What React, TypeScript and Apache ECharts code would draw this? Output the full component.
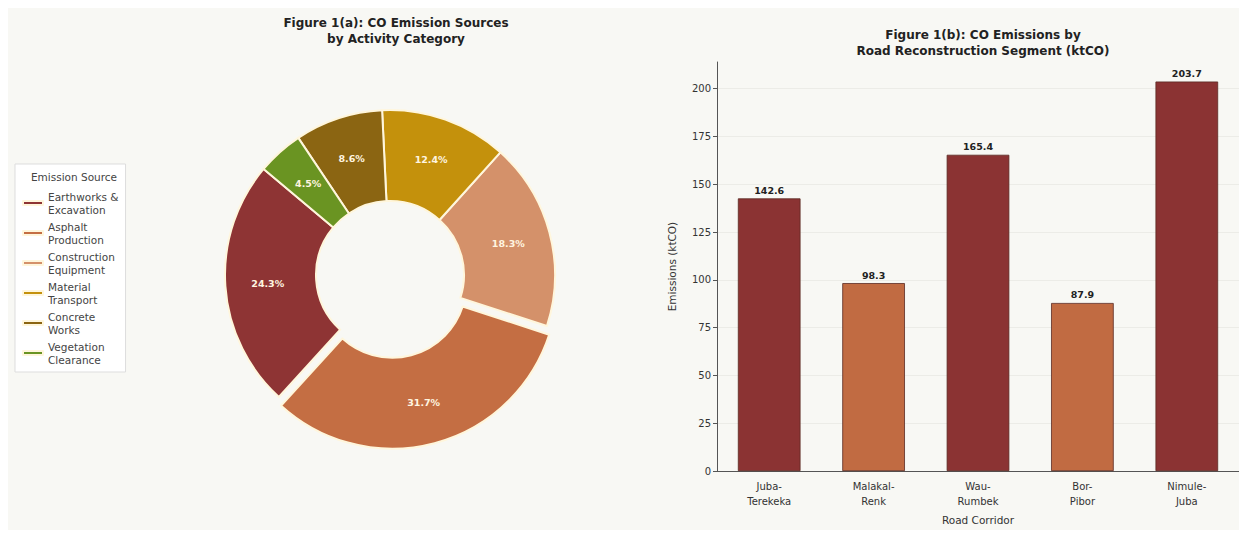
import React, { useEffect, useRef } from "react";
import * as echarts from "echarts";

const sourceNames = [
  "Earthworks & Excavation",
  "Asphalt Production",
  "Construction Equipment",
  "Material Transport",
  "Concrete Works",
  "Vegetation Clearance",
];
const legendLabels = [
  "Earthworks &\nExcavation",
  "Asphalt\nProduction",
  "Construction\nEquipment",
  "Material\nTransport",
  "Concrete\nWorks",
  "Vegetation\nClearance",
];
const sourceShares = [24.3, 31.7, 18.3, 12.4, 8.6, 4.5];
const sourceColors = ["#8E3434", "#C46E43", "#D4916A", "#C4910C", "#8B6512", "#6A9422"];

const corridors = ["Juba-\nTerekeka", "Malakal-\nRenk", "Wau-\nRumbek", "Bor-\nPibor", "Nimule-\nJuba"];
const corridorEmissions = [142.6, 98.3, 165.4, 87.9, 203.7];
const corridorColors = ["#8B3333", "#C16B42", "#8B3333", "#C16B42", "#8B3333"];
const yTicks = [0, 25, 50, 75, 100, 125, 150, 175, 200];

const FONT = "DejaVu Sans";

export default function App() {
  const ref = useRef<HTMLDivElement>(null);
  useEffect(() => {
    if (!ref.current) return;
    const chart = echarts.init(ref.current, null, { renderer: "svg" });
    const option: any = {
      animation: false,
      backgroundColor: "#F8F8F4",
      textStyle: { fontFamily: FONT },
      title: [
        {
          text: "Figure 1(a): CO Emission Sources\nby Activity Category",
          left: 383,
          top: 2,
          textAlign: "center",
          textStyle: { fontFamily: FONT, fontSize: 12, fontWeight: "bold", color: "#222", lineHeight: 16 },
        },
        {
          text: "Figure 1(b): CO Emissions by\nRoad Reconstruction Segment (ktCO)",
          left: 970,
          top: 14,
          textAlign: "center",
          textStyle: { fontFamily: FONT, fontSize: 12, fontWeight: "bold", color: "#222", lineHeight: 16 },
        },
      ],
      legend: {
        orient: "vertical",
        left: 7,
        top: 156,
        padding: [26, 7, 6, 7],
        backgroundColor: "#FFFFFF",
        borderColor: "#DDDDDD",
        borderWidth: 1,
        itemWidth: 20,
        itemHeight: 4,
        itemGap: 4,
        icon: "rect",
        data: sourceNames,
        formatter: (name: string) => legendLabels[sourceNames.indexOf(name)],
        textStyle: { fontFamily: FONT, fontSize: 10.5, color: "#444", lineHeight: 13 },
      },
      graphic: [
        {
          type: "text",
          x: 66,
          y: 163,
          z: 100,
          style: {
            text: "Emission Source",
            fontFamily: FONT,
            fontSize: 10.5,
            fill: "#444",
            textAlign: "center",
            textVerticalAlign: "top",
          },
        },
      ],
      grid: { left: 709, right: 0, top: 54, bottom: 54, containLabel: false },
      xAxis: {
        type: "category",
        data: corridors,
        name: "Road Corridor",
        nameLocation: "middle",
        nameGap: 42,
        nameTextStyle: { fontFamily: FONT, fontSize: 10.5, color: "#333" },
        axisLine: { lineStyle: { color: "#555", width: 1 } },
        axisTick: { alignWithLabel: true, length: 4, lineStyle: { color: "#555" } },
        axisLabel: { fontFamily: FONT, fontSize: 10, color: "#333", margin: 8, lineHeight: 15 },
      },
      yAxis: {
        type: "value",
        min: 0,
        max: 213.9,
        name: "Emissions (ktCO)",
        nameLocation: "middle",
        nameGap: 40,
        nameTextStyle: { fontFamily: FONT, fontSize: 10.5, color: "#333" },
        axisLine: { show: true, lineStyle: { color: "#555", width: 1 } },
        axisTick: { show: true, length: 4, lineStyle: { color: "#555" }, customValues: yTicks },
        axisLabel: { fontFamily: FONT, fontSize: 10, color: "#333", margin: 6, customValues: yTicks },
        splitLine: { show: true, lineStyle: { color: "#E9E9E3", width: 0.8 } },
      },
      series: [
        {
          type: "pie",
          center: [382, 267],
          radius: [74, 165],
          startAngle: 140,
          clockwise: false,
          selectedMode: "single",
          selectedOffset: 9,
          emphasis: { disabled: true },
          itemStyle: { borderColor: "#FFF6DC", borderWidth: 2 },
          label: {
            show: true,
            position: "inside",
            fontFamily: FONT,
            fontSize: 9.5,
            fontWeight: "bold",
            color: "#FFF5E0",
          },
          labelLine: { show: false },
          data: sourceNames.map((n, i) => ({
            name: n,
            value: sourceShares[i],
            selected: i === 1,
            itemStyle: { color: sourceColors[i] },
            label: { formatter: sourceShares[i].toFixed(1) + "%" },
          })),
        },
        {
          type: "bar",
          barWidth: "60%",
          data: corridorEmissions.map((v, i) => ({
            value: v,
            itemStyle: { color: corridorColors[i], borderColor: "#5A2A22", borderWidth: 0.8 },
          })),
          label: {
            show: true,
            position: "top",
            distance: 3,
            formatter: (p: any) => p.value.toFixed(1),
            fontFamily: FONT,
            fontSize: 9.5,
            fontWeight: "bold",
            color: "#222",
          },
          emphasis: { disabled: true },
        },
      ],
    };
    chart.setOption(option);
    return () => chart.dispose();
  }, []);
  return <div ref={ref} style={{ width: 1231, height: 522 }} />;
}
